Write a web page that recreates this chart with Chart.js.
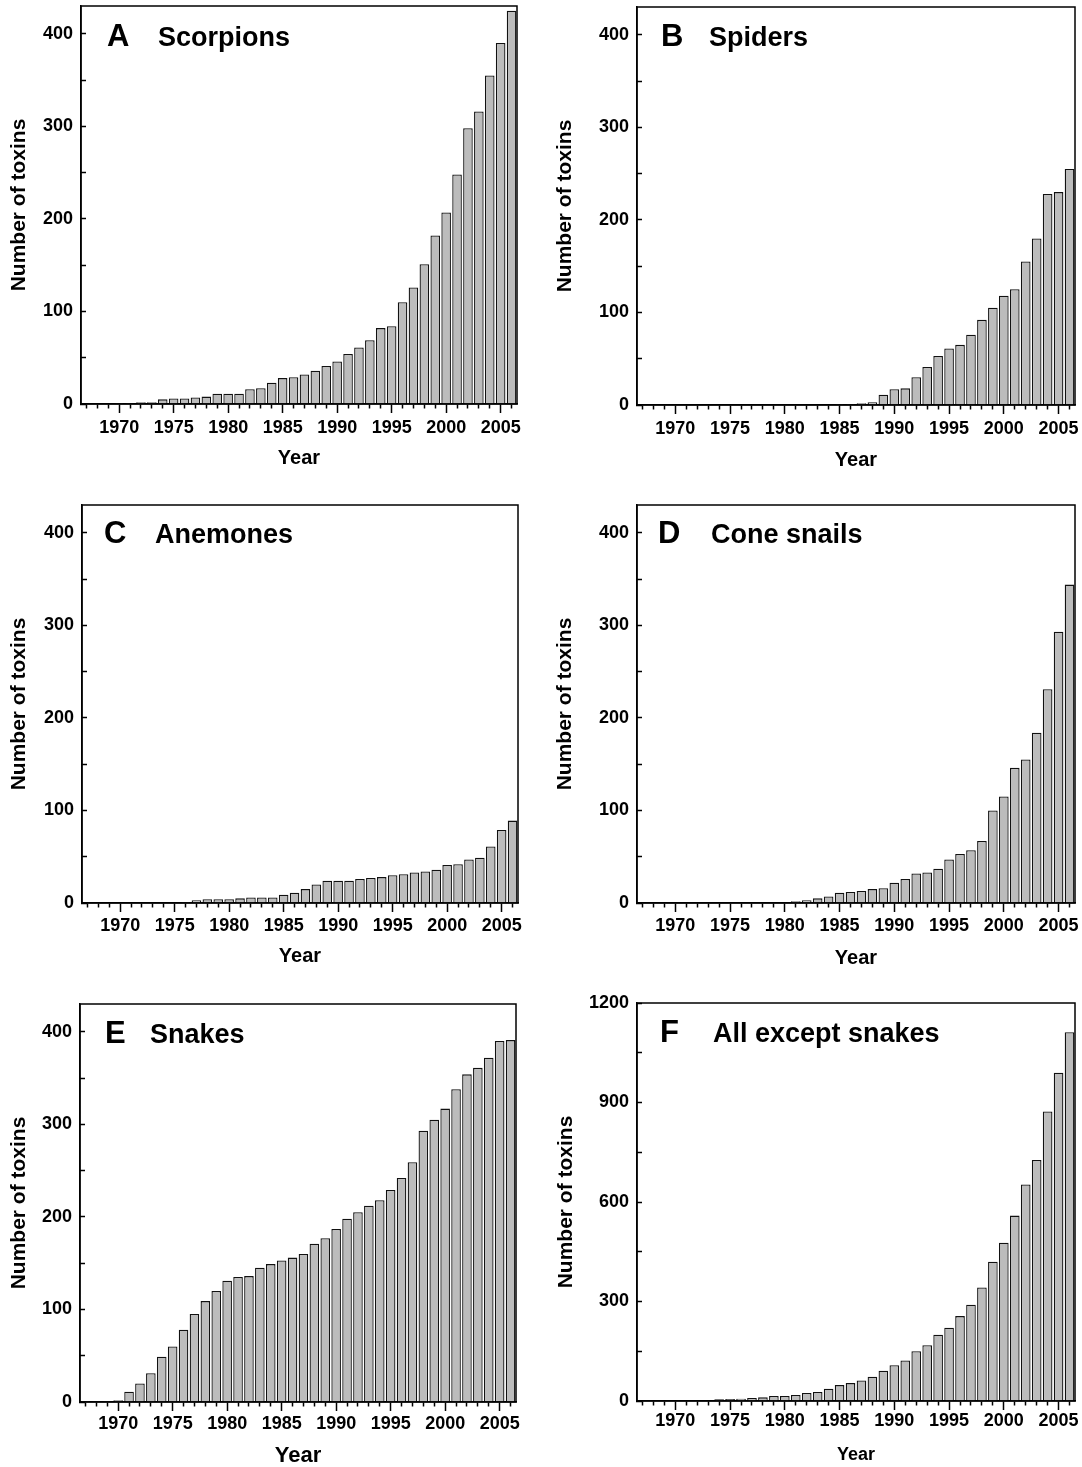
<!DOCTYPE html>
<html><head><meta charset="utf-8">
<script src="https://cdn.jsdelivr.net/npm/chart.js@4.4.1/dist/chart.umd.min.js"></script>
<style>
html,body{margin:0;padding:0;background:#fff;}
body{width:1082px;height:1467px;position:relative;overflow:hidden;}
canvas{position:absolute;}
</style></head><body>
<script>
const years = [1967,1968,1969,1970,1971,1972,1973,1974,1975,1976,1977,1978,1979,1980,1981,1982,1983,1984,1985,1986,
               1987,1988,1989,1990,1991,1992,1993,1994,1995,1996,1997,1998,1999,2000,2001,2002,2003,2004,2005,2006];
const scorpions = [0,0,0,1,1,2,2,5,6,6,7,8,11,11,11,16,17,23,28,29,32,36,41,46,54,61,69,82,84,110,126,151,182,207,248,298,316,355,390,425];
const spiders = [0,0,0,0,0,0,0,0,0,0,0,0,0,0,0,0,0,0,1,1,2,3,11,17,18,30,41,53,61,65,76,92,105,118,125,155,180,228,230,255];
const anemones = [0,0,0,0,0,0,0,0,0,1,3,4,4,4,5,6,6,6,9,11,15,20,24,24,24,26,27,28,30,31,33,34,36,41,42,47,49,61,79,89];
const coneSnails = [0,0,0,0,0,0,0,0,0,0,0,0,0,0,2,3,5,7,11,12,13,15,16,22,26,32,33,37,47,53,57,67,100,115,146,155,184,231,293,344];
const snakes = [1,1,1,2,11,20,31,49,60,78,95,109,120,131,135,136,145,149,153,156,160,171,177,187,198,205,212,218,229,242,259,293,305,317,338,354,361,372,390,391];
const allExceptSnakes = [0,0,0,1,1,1,1,5,6,7,9,11,15,15,18,24,27,37,48,54,62,73,91,108,122,150,168,200,221,256,290,342,420,477,559,653,727,873,990,1112];
const yTicks400 = [0,50,100,150,200,250,300,350,400];
const yTicks1200 = [0,150,300,450,600,750,900,1050,1200];

const FONT = '"Liberation Sans", Arial, Helvetica, sans-serif';
const W = 90, TOP = 26, H = 86, RP = 8;
const TICK_FS = 18;

const panels = [
  {letter:'A', name:'Scorpions', data:scorpions, max:430, ticks:yTicks400, step:100, l:81, r:517, t:6, b:404, yt:62, xl:24, xt:54, xs:20, lx:26, nx:77, by:40},
  {letter:'B', name:'Spiders', data:spiders, max:430, ticks:yTicks400, step:100, l:637, r:1075, t:7, b:405, yt:72, xl:24, xt:55, xs:20, lx:24, nx:72, by:39},
  {letter:'C', name:'Anemones', data:anemones, max:430, ticks:yTicks400, step:100, l:82, r:518, t:505, b:903, yt:63, xl:23, xt:53, xs:20, lx:22, nx:73, by:38},
  {letter:'D', name:'Cone snails', data:coneSnails, max:430, ticks:yTicks400, step:100, l:637, r:1075, t:505, b:903, yt:72, xl:23, xt:55, xs:20, lx:21, nx:74, by:38},
  {letter:'E', name:'Snakes', data:snakes, max:430, ticks:yTicks400, step:100, l:80, r:516, t:1004, b:1402, yt:61, xl:22, xt:54, xs:22, lx:25, nx:70, by:39},
  {letter:'F', name:'All except snakes', data:allExceptSnakes, max:1200, ticks:yTicks1200, step:300, l:637, r:1075, t:1003, b:1401, yt:71, xl:20, xt:54, xs:18, lx:23, nx:76, by:39}
];

const panelLabel = {
  id:'panelLabel',
  afterDraw(chart, args, o) {
    const {ctx, chartArea:a} = chart;
    ctx.save();
    ctx.strokeStyle = '#000'; ctx.lineWidth = 1.5;
    ctx.strokeRect(a.left, a.top, a.right - a.left, a.bottom - a.top);
    ctx.fillStyle = '#000'; ctx.textBaseline = 'alphabetic'; ctx.textAlign = 'left';
    ctx.font = 'bold 31px ' + FONT; ctx.fillText(o.letter, a.left + o.lx, a.top + o.by);
    ctx.font = 'bold 27px ' + FONT; ctx.fillText(o.name, a.left + o.nx, a.top + o.by);
    ctx.restore();
  }
};

panels.forEach(p => {
  const cv = document.createElement('canvas');
  const cw = W + (p.r - p.l) + RP, ch = TOP + (p.b - p.t) + H;
  cv.width = cw; cv.height = ch;
  cv.style.left = (p.l - W) + 'px'; cv.style.top = (p.t - TOP) + 'px';
  cv.style.width = cw + 'px'; cv.style.height = ch + 'px';
  document.body.appendChild(cv);
  new Chart(cv, {
    type:'bar',
    data:{labels: years.map(String), datasets:[{data:p.data, backgroundColor:'#bcbcbc', borderColor:'#111', borderWidth:1.3, barPercentage:0.88, categoryPercentage:1.0}]},
    options:{
      responsive:false, animation:false, devicePixelRatio:1,
      layout:{padding:{left:0, top:TOP, right:RP, bottom:0}},
      plugins:{legend:{display:false}, tooltip:{enabled:false},
        panelLabel:{letter:p.letter, name:p.name, lx:p.lx, nx:p.nx, by:p.by}},
      scales:{
        x:{type:'category', offset:true,
          afterFit: s => { s.height = H; },
          grid:{display:true, offset:false, drawOnChartArea:false, drawTicks:true, tickLength:9, tickColor:'#000', tickWidth:1.5,
                tickBorderDash: c => (years[c.index] % 5 === 0 ? [] : [4, 60])},
          border:{display:true, color:'#000', width:1.5},
          ticks:{autoSkip:false, maxRotation:0, minRotation:0, padding:p.xl - 9 - TICK_FS / 2, color:'#000',
                 font:{family:FONT, size:TICK_FS, weight:'bold', lineHeight:1},
                 callback:(v, i) => (years[i] % 5 === 0 ? String(years[i]) : '')},
          title:{display:true, text:'Year', color:'#000', font:{family:FONT, size:p.xs, weight:'bold', lineHeight:1},
                 padding:{top:0, bottom:H - p.xt - p.xs / 2}}
        },
        y:{min:0, max:p.max,
          afterBuildTicks: s => { s.ticks = p.ticks.map(v => ({value:v})); },
          afterFit: s => { s.width = W; },
          grid:{display:true, drawOnChartArea:false, drawTicks:true, tickLength:-5, tickColor:'#000', tickWidth:1.5},
          border:{display:true, color:'#000', width:1.5},
          ticks:{padding:13, color:'#000', font:{family:FONT, size:TICK_FS, weight:'bold', lineHeight:1},
                 callback: v => (v % p.step === 0 ? String(v) : '')},
          title:{display:true, text:'Number of toxins', color:'#000', font:{family:FONT, size:21, weight:'bold', lineHeight:1},
                 padding:{top:W - p.yt - 10.5, bottom:0}}
        }
      }
    },
    plugins:[panelLabel]
  });
});
</script>
</body></html>
